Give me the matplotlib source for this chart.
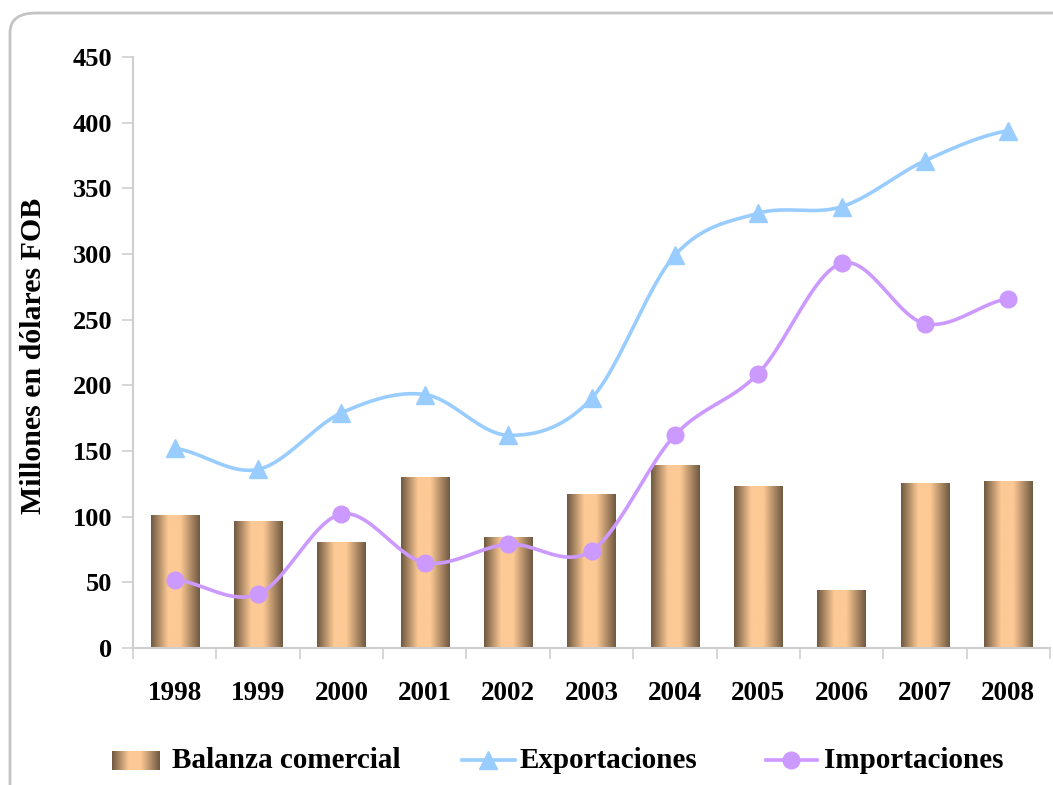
# balanza comercial 1998-2008, barras con degradado y curvas suavizadas

import numpy as np
import matplotlib
matplotlib.use("Agg")
import matplotlib.pyplot as plt
from matplotlib.colors import LinearSegmentedColormap
from matplotlib.patches import FancyBboxPatch
from matplotlib.lines import Line2D

years = ['1998', '1999', '2000', '2001', '2002', '2003', '2004', '2005', '2006', '2007', '2008']
balanza = [101, 96, 80, 130, 84, 117, 139, 123, 44, 125, 127]
exportaciones = [152, 136, 179, 193, 162, 190, 299, 331, 336, 371, 394]
importaciones = [52, 41, 102, 65, 79, 74, 162, 209, 293, 247, 266]

plt.rcParams['font.family'] = ['Liberation Serif', 'DejaVu Serif']
plt.rcParams['font.weight'] = 'bold'

expColor = '#99ccff'
impColor = '#cc99ff'
axisGray = '#cfcfcf'

bronze = LinearSegmentedColormap.from_list(
    'bronze', [(0.0, '#6e5840'), (0.35, '#fdc995'), (0.6, '#fdc995'), (1.0, '#6e5840')])
gradient = np.linspace(0, 1, 256).reshape(1, -1)


def smooth(xs, ys, steps=24):
    # catmull-rom, como el "linea suavizada" de excel
    xs = np.asarray(xs, float)
    ys = np.asarray(ys, float)
    px = np.concatenate([[2 * xs[0] - xs[1]], xs, [2 * xs[-1] - xs[-2]]])
    py = np.concatenate([[ys[0]], ys, [ys[-1]]])
    outX = []
    outY = []
    t = np.linspace(0, 1, steps, endpoint=False)
    for i in range(1, len(px) - 2):
        for p, out in ((px, outX), (py, outY)):
            p0, p1, p2, p3 = p[i - 1], p[i], p[i + 1], p[i + 2]
            seg = 0.5 * ((2 * p1) + (-p0 + p2) * t + (2 * p0 - 5 * p1 + 4 * p2 - p3) * t ** 2
                         + (-p0 + 3 * p1 - 3 * p2 + p3) * t ** 3)
            out.extend(seg)
    outX.append(xs[-1])
    outY.append(ys[-1])
    return np.array(outX), np.array(outY)


W, H = 1053, 785
figure = plt.figure(figsize=(W / 100, H / 100), dpi=100)

# marco redondeado
frame = FancyBboxPatch((10 / W, 1 - 13 / H - 800 / H), 1080 / W, 800 / H,
                       boxstyle='round,pad=0,rounding_size=0.025',
                       transform=figure.transFigure, facecolor='none',
                       edgecolor='#c4c4c4', linewidth=2, zorder=-1)
figure.add_artist(frame)

ax = figure.add_axes([133 / W, 1 - 648 / H, 917 / W, 591 / H])
ax.set_facecolor('none')

x = np.arange(len(years))

bars = ax.bar(x, balanza, width=0.58, color='none', edgecolor='none', zorder=2)
for rect in bars:
    x0 = rect.get_x()
    ax.imshow(gradient, cmap=bronze, aspect='auto', interpolation='bicubic',
              extent=(x0, x0 + rect.get_width(), 0, rect.get_height()), zorder=2)

sx, sy = smooth(x, exportaciones)
ax.plot(sx, sy, color=expColor, linewidth=2.6, zorder=3, solid_capstyle='round')
ax.plot(x, exportaciones, linestyle='none', marker='^', markersize=13,
        color=expColor, zorder=4)

sx, sy = smooth(x, importaciones)
ax.plot(sx, sy, color=impColor, linewidth=2.6, zorder=3, solid_capstyle='round')
ax.plot(x, importaciones, linestyle='none', marker='o', markersize=12,
        color=impColor, zorder=4)

ax.set_xlim(-0.5, len(years) - 0.5)
ax.set_ylim(0, 450)
ax.set_yticks(np.arange(0, 451, 50))
ax.set_xticks(x)
ax.set_xticklabels(years)
ax.set_xticks(np.arange(-0.5, len(years), 1), minor=True)

ax.tick_params(axis='x', which='major', length=0, pad=24, labelsize=19.5)
ax.tick_params(axis='x', which='minor', length=8, width=1.2, color=axisGray)
ax.tick_params(axis='y', length=8, width=1.2, color=axisGray, pad=7, labelsize=19)

for side in ['top', 'right']:
    ax.spines[side].set_visible(False)
for side in ['left', 'bottom']:
    ax.spines[side].set_color(axisGray)
    ax.spines[side].set_linewidth(1.5)

figure.text(34 / W, 1 - 356 / H, 'Millones en dólares FOB', rotation=90,
            ha='center', va='center', fontsize=21.5, fontweight='bold')

# leyenda a mano
legY = 1 - 760 / H
swatch = figure.add_axes([112 / W, 1 - 770 / H, 48 / W, 19 / H])
swatch.imshow(gradient, cmap=bronze, aspect='auto', interpolation='bicubic')
swatch.axis('off')
figure.text(172 / W, legY, 'Balanza comercial', ha='left', va='center', fontsize=21)

figure.add_artist(Line2D([462 / W, 515 / W], [legY, legY], color=expColor, linewidth=2.6,
                         transform=figure.transFigure))
figure.add_artist(Line2D([488 / W], [legY], marker='^', markersize=13, color=expColor,
                         transform=figure.transFigure))
figure.text(520 / W, legY, 'Exportaciones', ha='left', va='center', fontsize=21)

figure.add_artist(Line2D([766 / W, 817 / W], [legY, legY], color=impColor, linewidth=2.6,
                         transform=figure.transFigure))
figure.add_artist(Line2D([791 / W], [legY], marker='o', markersize=12, color=impColor,
                         transform=figure.transFigure))
figure.text(824 / W, legY, 'Importaciones', ha='left', va='center', fontsize=21)

figure.savefig('out.png', dpi=100)
